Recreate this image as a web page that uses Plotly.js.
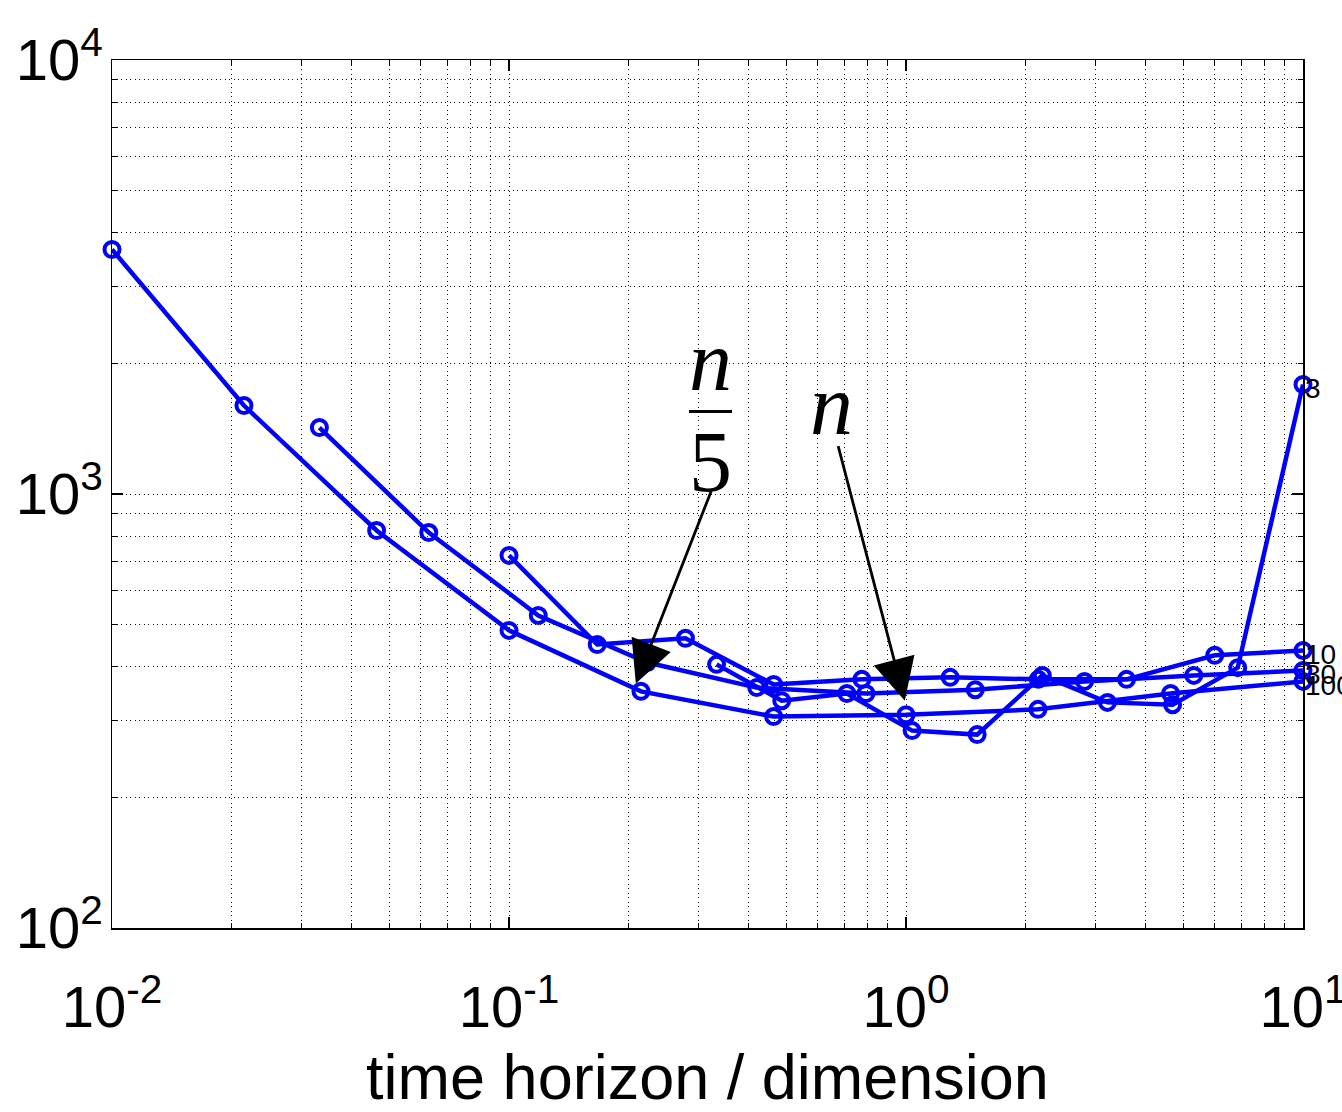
<!DOCTYPE html>
<html>
<head>
<meta charset="utf-8">
<script src="https://cdn.plot.ly/plotly-3.0.1.min.js"></script>
<style>
  html, body { margin: 0; padding: 0; background: #fff; }
  #chart { width: 1342px; height: 1112px; }
</style>
</head>
<body>
<div id="chart"></div>
<script>
// ---- data (x = time horizon / dimension, y = cost) ----
const x_n3   = [0.3333, 0.4864, 0.7097, 1.036, 1.511, 2.205, 3.217, 4.694, 6.849, 10];
const y_n3   = [405, 334, 347, 285, 279, 382, 331, 327, 398, 1788];
const x_n10  = [0.1, 0.1668, 0.2783, 0.4642, 0.7743, 1.292, 2.154, 3.594, 5.995, 10];
const y_n10  = [722, 450, 465, 364, 374, 378, 374, 374, 425, 436];
const x_n30  = [0.0333, 0.0628, 0.1185, 0.2231, 0.4206, 0.7927, 1.494, 2.816, 5.307, 10];
const y_n30  = [1423, 815, 525, 409, 358, 347, 354, 370, 382, 392];
const x_n100 = [0.01, 0.0215, 0.0464, 0.1, 0.215, 0.464, 1, 2.15, 4.64, 10];
const y_n100 = [3659, 1599, 824, 485, 351, 307, 310, 319, 347, 370];

const seriesNames = ['3', '10', '30', '100'];

const xMajor = [0.01, 0.1, 1, 10];
const xMajorText = ['10<sup>-2</sup>', '10<sup>-1</sup>', '10<sup>0</sup>', '10<sup>1</sup>'];
const xMinor = [0.02,0.03,0.04,0.05,0.06,0.07,0.08,0.09,
                0.2,0.3,0.4,0.5,0.6,0.7,0.8,0.9,
                2,3,4,5,6,7,8,9];
const yMajor = [100, 1000, 10000];
const yMajorText = ['10<sup>2</sup>', '10<sup>3</sup>', '10<sup>4</sup>'];
const yMinor = [200,300,400,500,600,700,800,900,
                2000,3000,4000,5000,6000,7000,8000,9000];

const xTitle = 'time horizon / dimension';

// ---- build ----
const blue = '#0000ff';
const xs = [x_n3, x_n10, x_n30, x_n100];
const ys = [y_n3, y_n10, y_n30, y_n100];
const traces = xs.map((xv, i) => ({
  x: xv, y: ys[i], type: 'scatter', mode: 'lines+markers',
  name: seriesNames[i],
  line: {color: blue, width: 4.5},
  marker: {symbol: 'circle-open', size: 15, color: blue, line: {color: blue, width: 4}},
  showlegend: false, cliponaxis: false
}));

const labelFont = {family: 'Liberation Sans, Arial, sans-serif', size: 28, color: '#000'};
const endLabels = xs.map((xv, i) => ({
  x: Math.log10(xv[xv.length - 1]), y: Math.log10(ys[i][ys[i].length - 1]),
  xref: 'x', yref: 'y', text: seriesNames[i], showarrow: false,
  xanchor: 'left', yanchor: 'middle', xshift: 0, yshift: -4, font: labelFont
}));

const mathFont = {family: 'Liberation Serif, DejaVu Serif, serif', size: 86, color: '#000'};
const annotations = endLabels.concat([
  {xref: 'paper', yref: 'paper', x: 0.5021, y: 0.6527, text: '<i>n</i>', showarrow: false,
   xanchor: 'center', yanchor: 'middle', font: mathFont},
  {xref: 'paper', yref: 'paper', x: 0.5021, y: 0.5374, text: '5', showarrow: false,
   xanchor: 'center', yanchor: 'middle', font: mathFont},
  {xref: 'paper', yref: 'paper', x: 0.6045, y: 0.6031, text: '<i>n</i>', showarrow: false,
   xanchor: 'center', yanchor: 'middle', font: mathFont},
  // arrows (tip in data log-units, tail as pixel offsets)
  {xref: 'x', yref: 'y', x: Math.log10(0.2087), y: Math.log10(366), ax: 76, ay: -194,
   text: '', showarrow: true, arrowhead: 2, arrowsize: 3, arrowwidth: 2.8, arrowcolor: '#000'},
  {xref: 'x', yref: 'y', x: Math.log10(0.993), y: Math.log10(334), ax: -67, ay: -256,
   text: '', showarrow: true, arrowhead: 2, arrowsize: 3, arrowwidth: 2.8, arrowcolor: '#000'}
]);

const shapes = [
  {type: 'line', xref: 'paper', yref: 'paper', x0: 0.4845, x1: 0.5206, y0: 0.5950, y1: 0.5950,
   line: {color: '#000', width: 3}}
];

const tickFont = {family: 'Liberation Sans, Arial, sans-serif', size: 58, color: '#000'};
const gridDash = '1px,3.5px';
const axisCommon = {
  type: 'log', showline: true, linecolor: '#000', linewidth: 1.5, mirror: 'allticks',
  ticks: 'inside', ticklen: 11, tickwidth: 1.5, tickcolor: '#000',
  showgrid: true, gridcolor: '#111', gridwidth: 1, griddash: gridDash,
  zeroline: false, tickfont: tickFont, tickmode: 'array', ticklabeloverflow: 'allow'
};

const layout = {
  width: 1342, height: 1112,
  margin: {l: 112, r: 39, t: 60, b: 184},
  paper_bgcolor: '#fff', plot_bgcolor: '#fff',
  font: {family: 'Liberation Sans, Arial, sans-serif', color: '#000'},
  xaxis: Object.assign({}, axisCommon, {
    range: [-2, 1], tickvals: xMajor, ticktext: xMajorText, ticklabelstandoff: 28,
    minor: {tickmode: 'array', tickvals: xMinor, ticks: 'inside', ticklen: 5, tickcolor: '#000',
            tickwidth: 1, showgrid: true, gridcolor: '#111', gridwidth: 1, griddash: gridDash},
    title: {text: xTitle, font: {family: 'Liberation Sans, Arial, sans-serif', size: 63, color: '#000'}, standoff: 20},
    automargin: false
  }),
  yaxis: Object.assign({}, axisCommon, {
    range: [2, 4], tickvals: yMajor, ticktext: yMajorText, ticklabelstandoff: -4,
    minor: {tickmode: 'array', tickvals: yMinor, ticks: 'inside', ticklen: 5, tickcolor: '#000',
            tickwidth: 1, showgrid: true, gridcolor: '#111', gridwidth: 1, griddash: gridDash},
    automargin: false
  }),
  annotations: annotations,
  shapes: shapes
};

Plotly.newPlot('chart', traces, layout, {displayModeBar: false, staticPlot: true});
</script>
</body>
</html>
